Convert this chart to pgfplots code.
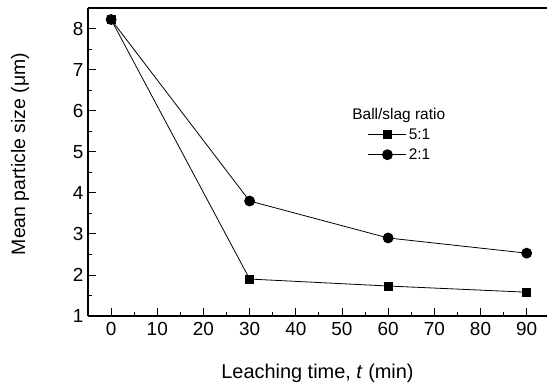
\documentclass[border=0pt]{standalone}
\usepackage{pgfplots}
\pgfplotsset{compat=1.18}
\usepackage{fontspec}
\setmainfont{Liberation Sans}
\begin{document}
\begin{tikzpicture}
\begin{axis}[
  scale only axis,
  width=459bp, height=308bp,
  xmin=-5, xmax=94.4, ymin=1, ymax=8.5,
  axis x line*=bottom, axis y line*=left,
  axis line style={line width=1.1bp, -},
  xtick={0,10,...,90}, ytick={1,...,8},
  minor x tick num=1, minor y tick num=1,
  tick align=inside,
  major tick length=8bp, minor tick length=4.5bp,
  tick style={line width=0.8bp, black},
  /pgf/number format/assume math mode=true,
  tick label style={font=\fontsize{19}{21}\selectfont},
  xticklabel style={yshift=-3bp},
  yticklabel style={xshift=-1bp},
  xlabel={Leaching time, \textit{t} (min)},
  ylabel={Mean particle size (μm)},
  xlabel style={font=\fontsize{20}{22}\selectfont, at={(axis description cs:0.5,0)}, anchor=center, yshift=-57bp},
  ylabel style={font=\fontsize{19.5}{21}\selectfont, at={(axis description cs:0,0.5)}, anchor=center, yshift=68bp, xshift=8bp},
  legend style={at={(axis cs:55.6,5.62)}, anchor=north west, draw=none, fill=none,
    font=\fontsize{15.5}{17}\selectfont, row sep=4bp, inner sep=0pt,
    /tikz/every even column/.append style={column sep=3bp}},
  legend cell align=left,
  legend image code/.code={
    \draw[#1, mark repeat=2, mark phase=2] plot coordinates {(0bp,0bp) (19bp,0bp) (38bp,0bp)};
  },
  clip=false,
]
\addlegendimage{black, line width=0.8bp, mark=square*, mark size=4bp, mark options={solid}}
\addlegendentry{5:1}
\addlegendimage{black, line width=0.8bp, mark=*, mark size=5bp, mark options={solid}}
\addlegendentry{2:1}
\addplot[black, line width=0.8bp, mark=*, mark size=5bp, mark options={solid}, forget plot]
  coordinates {(0,8.22) (30,3.8) (60,2.9) (90,2.53)};
\addplot[black, line width=0.8bp, mark=square*, mark size=4bp, mark options={solid}, forget plot]
  coordinates {(0,8.22) (30,1.9) (60,1.73) (90,1.58)};
\draw[line width=1.1bp] (rel axis cs:0,1) -- (rel axis cs:1,1);
\node[font=\fontsize{15.5}{17}\selectfont, anchor=center] at (axis cs:62.3,5.87) {Ball/slag ratio};
\coordinate (bl) at (rel axis cs:0,0);
\end{axis}
\pgfresetboundingbox
\path[use as bounding box] (bl) ++(-88bp,-76bp) rectangle ++(547bp,392bp);
\end{tikzpicture}
\end{document}
